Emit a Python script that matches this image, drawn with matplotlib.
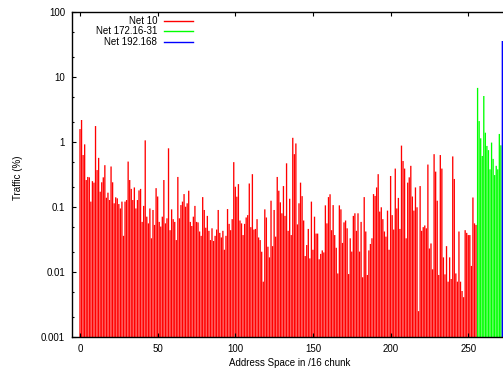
import numpy as np
import matplotlib
matplotlib.use('Agg')
import matplotlib.pyplot as plt
from matplotlib.ticker import FixedLocator, LogLocator, NullFormatter

plt.rcParams['font.family'] = ['Liberation Sans', 'DejaVu Sans']

# --- Traffic share (%) per /16 chunk ---
# Net 10: chunks 0..255
net10_traffic = [
    1.58, 2.18, 0.63, 0.92, 0.26, 0.29, 0.286, 0.121, 0.25, 0.237,
    1.76, 0.37, 0.57, 0.172, 0.24, 0.286, 0.44, 0.139, 0.166, 0.128,
    0.42, 0.24, 0.114, 0.141, 0.136, 0.111, 0.095, 0.121, 0.036, 0.121,
    0.128, 0.50, 0.26, 0.19, 0.128, 0.20, 0.095, 0.128, 0.18, 0.19,
    0.059, 0.104, 1.06, 0.071, 0.056, 0.095, 0.033, 0.090, 0.053, 0.195,
    0.145, 0.059, 0.050, 0.071, 0.26, 0.056, 0.067, 0.80, 0.044, 0.092,
    0.065, 0.059, 0.031, 0.29, 0.067,
    0.107, 0.121, 0.158, 0.101, 0.114, 0.178, 0.059, 0.051, 0.071, 0.104,
    0.059, 0.058, 0.042, 0.036, 0.142, 0.090, 0.048, 0.073, 0.043, 0.031,
    0.047, 0.030, 0.036, 0.045, 0.090, 0.040, 0.034, 0.043, 0.022, 0.036,
    0.093, 0.055, 0.044, 0.065, 0.49, 0.205, 0.144, 0.225, 0.062, 0.056,
    0.037, 0.055, 0.069, 0.075, 0.23, 0.049, 0.32, 0.045, 0.046, 0.065,
    0.034, 0.031, 0.0205, 0.0071, 0.092, 0.069, 0.0245, 0.0168, 0.125, 0.025,
    0.090, 0.035, 0.29, 0.178, 0.118, 0.080, 0.21, 0.073, 0.47, 0.043,
    0.134, 0.037, 1.16, 0.65, 0.95, 0.054, 0.114, 0.237, 0.147, 0.062,
    0.0176, 0.026, 0.046, 0.0162, 0.121, 0.022, 0.071, 0.039, 0.039, 0.0157,
    0.019, 0.0215, 0.020, 0.106, 0.056, 0.142, 0.157, 0.044, 0.107, 0.037,
    0.0236, 0.0095, 0.106, 0.092, 0.028, 0.058, 0.062, 0.047, 0.0093, 0.033,
    0.0206, 0.073, 0.080, 0.043, 0.080, 0.0206, 0.059, 0.0083, 0.142, 0.042,
    0.0090, 0.0215, 0.027, 0.033, 0.158, 0.148, 0.20, 0.32, 0.085, 0.099,
    0.065, 0.042, 0.035, 0.088, 0.022, 0.30, 0.075, 0.045, 0.39, 0.095,
    0.138, 0.046, 0.88, 0.51, 0.39, 0.033, 0.237, 0.286, 0.43, 0.145,
    0.088, 0.20, 0.099, 0.0025,
    0.21, 0.043, 0.049, 0.052, 0.047, 0.45, 0.023, 0.0275, 0.011, 0.65,
    0.35, 0.125, 0.009, 0.63, 0.39, 0.0168, 0.0092, 0.025, 0.0071, 0.0168,
    0.0078, 0.6, 0.27, 0.0095, 0.0071, 0.042, 0.0071, 0.0051, 0.0041, 0.044,
    0.040, 0.037, 0.037, 0.0124, 0.14, 0.056, 0.053,
]
# Net 172.16-31: chunks 256..271
net172_traffic = [6.8, 2.1, 1.14, 0.61, 5.1, 1.39, 0.87, 0.75,
                  0.38, 0.98, 0.55, 0.31, 0.43, 0.38, 1.33, 0.89]
# Net 192.168: chunk 272
net192_traffic = [35.8]

series_labels = ['Net 10', 'Net 172.16-31', 'Net 192.168']
series_colors = ['#ff0000', '#00ff00', '#0000ff']

y_ticks = [0.001, 0.01, 0.1, 1, 10, 100]
y_ticklabels = ['0.001', '0.01', '0.1', '1', '10', '100']
x_ticks = [0, 50, 100, 150, 200, 250]

BASE = 1e-4

fig = plt.figure(figsize=(5.03, 3.74), dpi=100)
# axes deliberately runs past the right edge (the original is cropped there)
ax = fig.add_axes([72 / 503, 37 / 374, 438.2 / 503, 325 / 374])
ax.set_yscale('log')

start = 0
all_series = [net10_traffic, net172_traffic, net192_traffic]
for vals, color in zip(all_series, series_colors):
    vals = np.array(vals)
    x = np.arange(start, start + len(vals))
    w = 1.0 if len(vals) == 1 else 0.85
    bars = ax.bar(x, vals - BASE, bottom=BASE, width=w, color=color,
                  edgecolor='none', linewidth=0)
    for b in bars:
        b.set_snap(False)
    start += len(vals)

ax.set_xlim(-5.15, 277)
ax.set_ylim(0.001, 100)

ax.yaxis.set_major_locator(FixedLocator(y_ticks))
ax.set_yticklabels(y_ticklabels)
ax.yaxis.set_minor_locator(LogLocator(base=10, subs=(2.0, 5.0)))
ax.yaxis.set_minor_formatter(NullFormatter())
ax.set_xticks(x_ticks)

ax.tick_params(which='both', direction='in', top=True, right=True,
               labelsize=7, colors='black', width=0.8)
ax.tick_params(which='major', length=3)
ax.tick_params(which='minor', length=1.6)
ax.tick_params(axis='y', pad=5)
ax.tick_params(axis='x', pad=5)
for sp in ax.spines.values():
    sp.set_linewidth(1.0)
    sp.set_zorder(3)

ax.set_ylabel('Traffic (%)', fontsize=7)
ax.yaxis.set_label_coords(-0.112, 0.49)
ax.set_xlabel('Address Space in /16 chunk', fontsize=7)
ax.xaxis.set_label_coords(0.4975, -0.065)

# gnuplot-style key: text right-aligned, sample line on the right
key_rows = [0.972, 0.9406, 0.9077]
for label, color, ky in zip(series_labels, series_colors, key_rows):
    ax.text(0.1947, ky, label, transform=ax.transAxes, ha='right',
            va='center', fontsize=7)
    ax.plot([0.21, 0.276], [ky, ky], color=color, linewidth=1.0,
            transform=ax.transAxes, clip_on=False)

fig.savefig('out.png', dpi=100)
